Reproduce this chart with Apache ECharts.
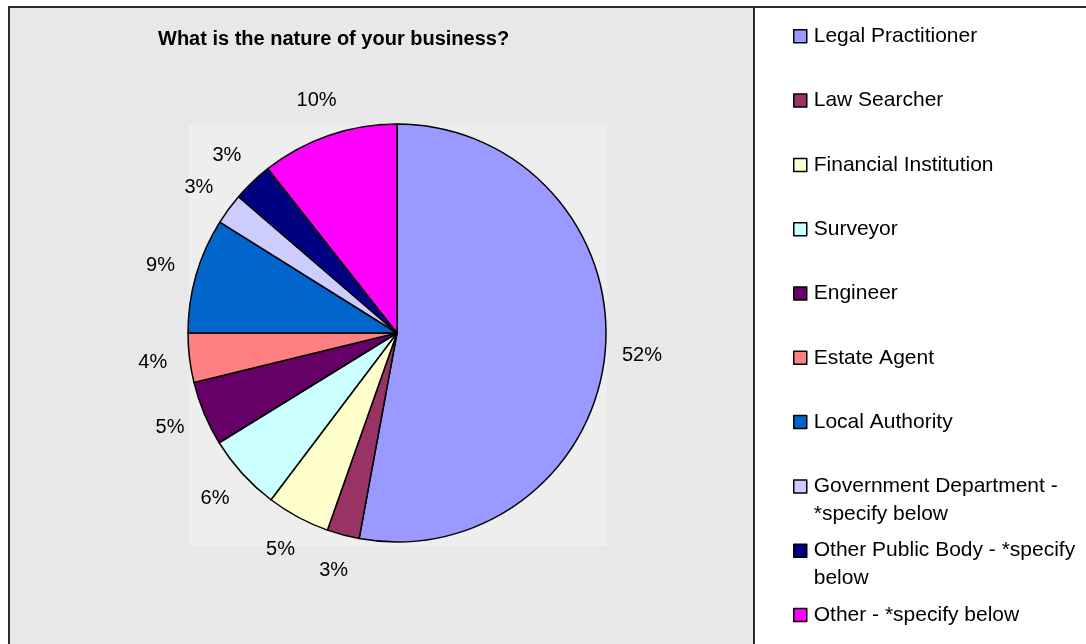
<!DOCTYPE html>
<html>
<head>
<meta charset="utf-8">
<script src="https://cdn.jsdelivr.net/npm/echarts@6/dist/echarts.min.js"></script>
<style>
  html, body { margin: 0; padding: 0; background: #ffffff; }
  #chart { width: 1086px; height: 644px; }
</style>
</head>
<body>
<div id="chart"></div>
<script>
// ---- data ----
const titleText = 'What is the nature of your business?';
const categories = [
  'Legal Practitioner',
  'Law Searcher',
  'Financial Institution',
  'Surveyor',
  'Engineer',
  'Estate Agent',
  'Local Authority',
  'Government Department - *specify below',
  'Other Public Body - *specify below',
  'Other - *specify below'
];
// shares
const shares = [52.9, 2.5, 4.9, 5.9, 5.0, 3.8, 8.9, 2.4, 3.1, 10.6];
// percentage labels as printed on the chart
const percentLabels = ['52%', '3%', '5%', '6%', '5%', '4%', '9%', '3%', '3%', '10%'];
// legend text lines as wrapped in the picture
const legendLines = [
  ['Legal Practitioner'],
  ['Law Searcher'],
  ['Financial Institution'],
  ['Surveyor'],
  ['Engineer'],
  ['Estate Agent'],
  ['Local Authority'],
  ['Government Department -', '*specify below'],
  ['Other Public Body - *specify', 'below'],
  ['Other - *specify below']
];
const colors = ['#9999ff', '#993366', '#ffffcc', '#ccffff', '#660066',
                '#ff8080', '#0066cc', '#ccccff', '#000080', '#ff00ff'];

// ---- layout ----
const FONT = '"Liberation Sans", Arial, sans-serif';
const cx = 397, cy = 333, R = 209;
const legendFirst = 36.3, legendStep = 64.3, LINE_H = 28;

const chart = echarts.init(document.getElementById('chart'), null, { renderer: 'canvas' });

const pieData = categories.map((c, i) => ({
  name: c, value: shares[i], itemStyle: { color: colors[i] }
}));
const labelData = categories.map((c, i) => ({ name: c, value: shares[i] }));

const legends = categories.map((c, i) => {
  const lines = legendLines[i];
  const twoLine = lines.length > 1;
  // for wrapped items, an empty leading line keeps the first line level with the icon
  const text = twoLine ? '\n' + lines.join('\n') : lines[0];
  const centerY = legendFirst + i * legendStep;
  return {
    orient: 'vertical',
    left: 793,
    top: twoLine ? centerY - 42 : centerY - 14,
    padding: 0,
    itemWidth: 13,
    itemHeight: 13,
    icon: 'rect',
    selectedMode: false,
    itemStyle: { borderColor: '#000', borderWidth: 1.5 },
    data: [c],
    formatter: () => text,
    textStyle: {
      fontFamily: FONT, fontSize: 21, color: '#000', lineHeight: LINE_H,
      padding: [0, 0, 0, 2]
    }
  };
});

chart.setOption({
  animation: false,
  backgroundColor: '#ffffff',
  title: {
    text: titleText,
    left: 158, top: 29, padding: 0,
    textStyle: { fontFamily: FONT, fontSize: 20, fontWeight: 'bold', color: '#000' }
  },
  graphic: [
    { type: 'rect', z: -10, silent: true,
      shape: { x: 9, y: 7, width: 1200, height: 800 },
      style: { fill: '#e8e8e8', stroke: '#2a2a2a', lineWidth: 2 } },
    { type: 'rect', z: -9, silent: true,
      shape: { x: 754, y: 7, width: 600, height: 800 },
      style: { fill: '#ffffff', stroke: '#2a2a2a', lineWidth: 2 } },
    { type: 'rect', z: -8, silent: true,
      shape: { x: 189, y: 125, width: 418, height: 421 },
      style: { fill: '#eeeeee' } }
  ],
  legend: legends,
  series: [
    {
      type: 'pie',
      center: [cx, cy],
      radius: [0, R],
      startAngle: 90,
      clockwise: true,
      avoidLabelOverlap: false,
      silent: true,
      data: pieData,
      itemStyle: { borderColor: '#000', borderWidth: 1.5 },
      label: { show: false },
      labelLine: { show: false },
      emphasis: { disabled: true }
    },
    {
      type: 'pie',
      center: [cx, cy],
      radius: [232, 254],
      startAngle: 90,
      clockwise: true,
      avoidLabelOverlap: false,
      silent: true,
      data: labelData,
      itemStyle: { color: 'rgba(0,0,0,0)', borderWidth: 0 },
      label: {
        show: true,
        position: 'inside',
        formatter: (p) => percentLabels[p.dataIndex],
        fontFamily: FONT, fontSize: 20, color: '#000'
      },
      labelLine: { show: false },
      emphasis: { disabled: true }
    }
  ]
});
</script>
</body>
</html>
